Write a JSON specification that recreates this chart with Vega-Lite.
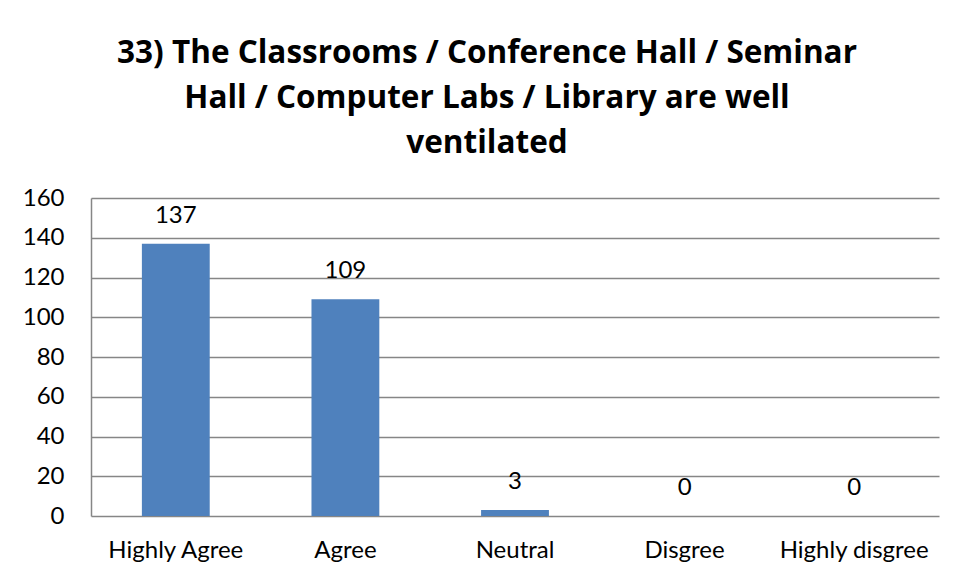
{
  "$schema": "https://vega.github.io/schema/vega-lite/v6.json",
  "width": 848,
  "height": 318,
  "autosize": {"type": "none"},
  "padding": {"left": 91, "top": 198, "right": 17, "bottom": 63},
  "background": "white",
  "title": {
    "text": ["33) The Classrooms / Conference Hall / Seminar", "Hall / Computer Labs / Library are well", "ventilated"],
    "font": "Open Sans",
    "fontSize": 31.5,
    "fontWeight": "bold",
    "color": "#000000",
    "lineHeight": 45,
    "anchor": "middle",
    "dx": -28,
    "offset": 27
  },
  "data": {
    "values": [
      {"response": "Highly Agree", "count": 137},
      {"response": "Agree", "count": 109},
      {"response": "Neutral", "count": 3},
      {"response": "Disgree", "count": 0},
      {"response": "Highly disgree", "count": 0}
    ]
  },
  "encoding": {
    "x": {
      "field": "response",
      "type": "nominal",
      "sort": null,
      "scale": {"paddingInner": 0.6, "paddingOuter": 0.3},
      "axis": {
        "title": null,
        "labelAngle": 0,
        "labelFont": "Lato",
        "labelFontSize": 24,
        "labelColor": "#000000",
        "labelPadding": 22,
        "ticks": false,
        "domain": false
      }
    },
    "y": {
      "field": "count",
      "type": "quantitative",
      "scale": {"domain": [0, 160]},
      "axis": {
        "title": null,
        "values": [0, 20, 40, 60, 80, 100, 120, 140, 160],
        "labelFont": "Lato",
        "labelFontSize": 24,
        "labelColor": "#000000",
        "labelPadding": 27,
        "ticks": false,
        "domain": true,
        "domainColor": "#868686",
        "domainWidth": 1.5,
        "grid": true,
        "gridColor": "#868686",
        "gridWidth": 1.5,
        "gridOpacity": 1
      }
    }
  },
  "layer": [
    {"mark": {"type": "bar", "color": "#4F81BD"}},
    {
      "mark": {"type": "text", "baseline": "middle", "dy": -28, "font": "Lato", "fontSize": 24, "color": "#000000"},
      "encoding": {"text": {"field": "count", "type": "quantitative"}}
    }
  ],
  "config": {"view": {"stroke": null}}
}
